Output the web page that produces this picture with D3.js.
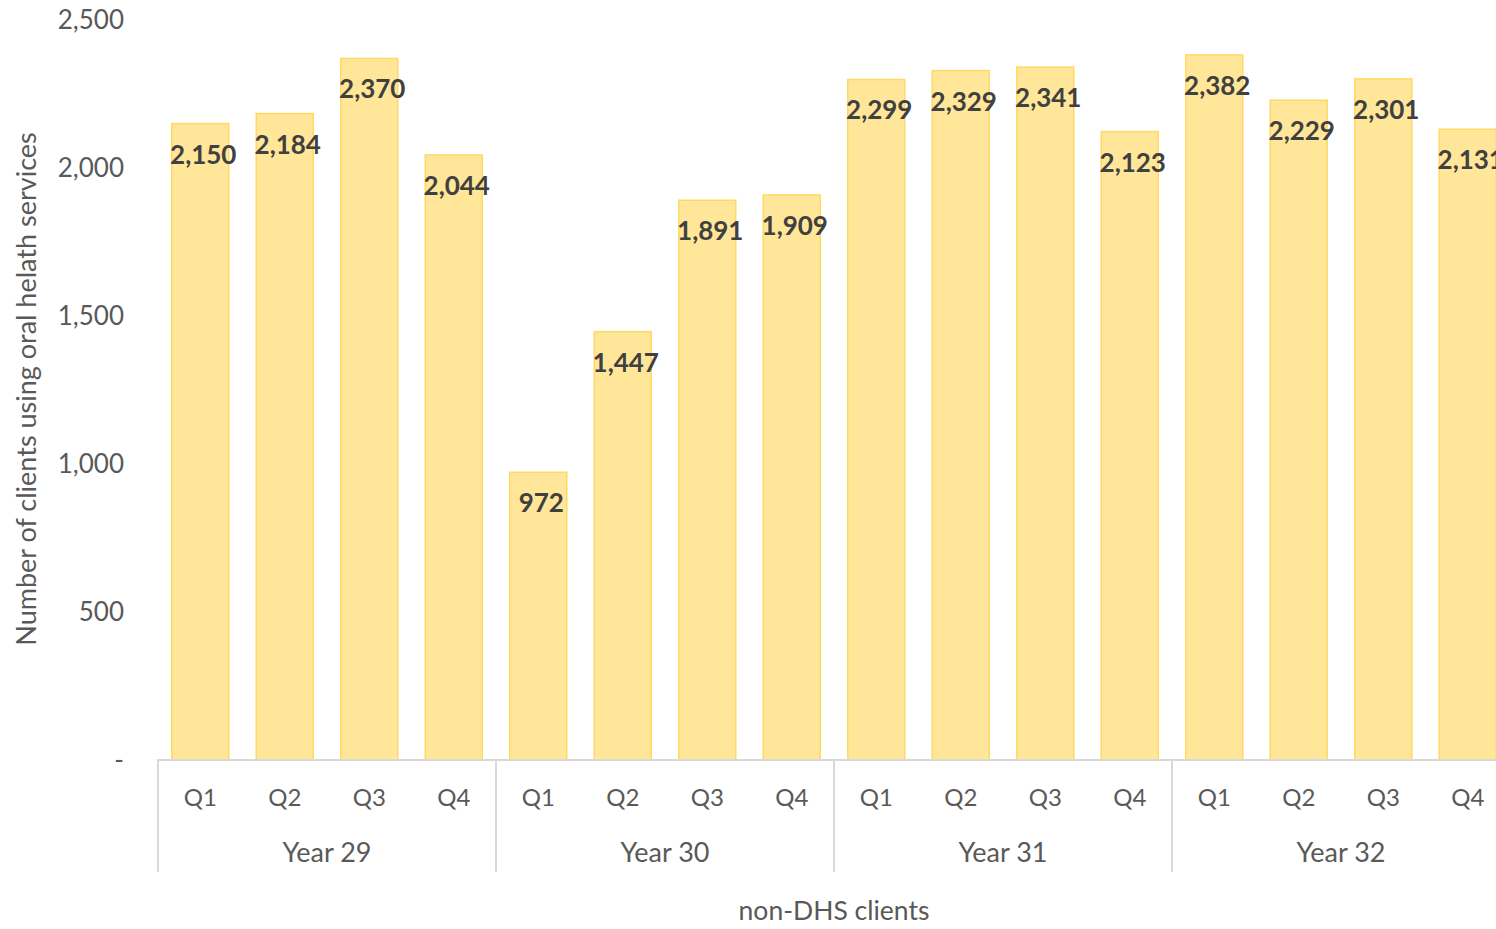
<!DOCTYPE html>
<html>
<head>
<meta charset="utf-8">
<script src="https://cdn.jsdelivr.net/npm/d3@7"></script>
<style>
	body { margin: 0; background: #fff; }
	svg { display: block; font-family: Lato, "Open Sans", sans-serif; }
</style>
</head>
<body>
<svg id="chart" width="1496" height="929" viewBox="0 0 1496 929"></svg>
<script>
const years = ["Year 29", "Year 30", "Year 31", "Year 32"];
const quarters = ["Q1", "Q2", "Q3", "Q4"];
const values = [
	[2150, 2184, 2370, 2044],
	[972, 1447, 1891, 1909],
	[2299, 2329, 2341, 2123],
	[2382, 2229, 2301, 2131]
];
const yTicks = [0, 500, 1000, 1500, 2000, 2500];
const yTitle = "Number of clients using oral helath services";
const xTitle = "non-DHS clients";

const svg = d3.select("#chart");
const plot = { left: 158, right: 1510, top: 20, bottom: 760 };

const x0 = d3.scaleBand().domain(years).range([plot.left, plot.right]);
const x1 = d3
	.scaleBand()
	.domain(quarters)
	.range([0, x0.bandwidth()])
	.paddingInner(0.325)
	.paddingOuter(0.1625);
const y = d3.scaleLinear().domain([0, 2500]).range([plot.bottom, plot.top]);

const fmt = d3.format(",");

// y tick labels (no axis line, Excel style)
svg.append("g")
	.selectAll("text")
	.data(yTicks)
	.join("text")
	.attr("x", 124)
	.attr("y", d => y(d))
	.attr("dy", "0.36em")
	.attr("text-anchor", "end")
	.attr("fill", "#595959")
	.style("font-size", "26px")
	.text(d => (d === 0 ? "-" : fmt(d)));

// bars
const rows = years.flatMap((yr, i) => quarters.map((q, j) => ({ year: yr, q, v: values[i][j] })));
const barX = d => x0(d.year) + x1(d.q);

svg.append("g")
	.selectAll("rect")
	.data(rows)
	.join("rect")
	.attr("x", barX)
	.attr("y", d => y(d.v))
	.attr("width", x1.bandwidth())
	.attr("height", d => y(0) - y(d.v))
	.attr("fill", "#FFE699")
	.attr("stroke", "#FFD966")
	.attr("stroke-width", 1.5);

// value labels, inside the top of each bar
svg.append("g")
	.selectAll("text")
	.data(rows)
	.join("text")
	.attr("x", d => barX(d) + x1.bandwidth() / 2 + 3)
	.attr("y", d => y(d.v) + 40)
	.attr("text-anchor", "middle")
	.attr("fill", "#404040")
	.style("font-size", "26px")
	.style("font-weight", "bold")
	.text(d => fmt(d.v));

// category axis
const axis = svg.append("g").attr("stroke", "#D9D9D9").attr("stroke-width", 2);
axis.append("line")
	.attr("x1", plot.left - 1)
	.attr("x2", plot.right)
	.attr("y1", plot.bottom)
	.attr("y2", plot.bottom);
axis.selectAll(".sep")
	.data(years)
	.join("line")
	.attr("class", "sep")
	.attr("x1", d => x0(d))
	.attr("x2", d => x0(d))
	.attr("y1", plot.bottom)
	.attr("y2", 872);

svg.append("g")
	.selectAll("text")
	.data(rows)
	.join("text")
	.attr("x", d => barX(d) + x1.bandwidth() / 2)
	.attr("y", 806)
	.attr("text-anchor", "middle")
	.attr("fill", "#595959")
	.style("font-size", "24px")
	.text(d => d.q);

svg.append("g")
	.selectAll("text")
	.data(years)
	.join("text")
	.attr("x", d => x0(d) + x0.bandwidth() / 2)
	.attr("y", 862)
	.attr("text-anchor", "middle")
	.attr("fill", "#595959")
	.style("font-size", "27px")
	.text(d => d);

// titles
svg.append("text")
	.attr("x", 834)
	.attr("y", 920)
	.attr("text-anchor", "middle")
	.attr("fill", "#595959")
	.style("font-size", "26.5px")
	.text(xTitle);

svg.append("text")
	.attr("transform", "translate(36,389) rotate(-90)")
	.attr("text-anchor", "middle")
	.attr("fill", "#595959")
	.style("font-size", "27px")
	.text(yTitle);
</script>
</body>
</html>
